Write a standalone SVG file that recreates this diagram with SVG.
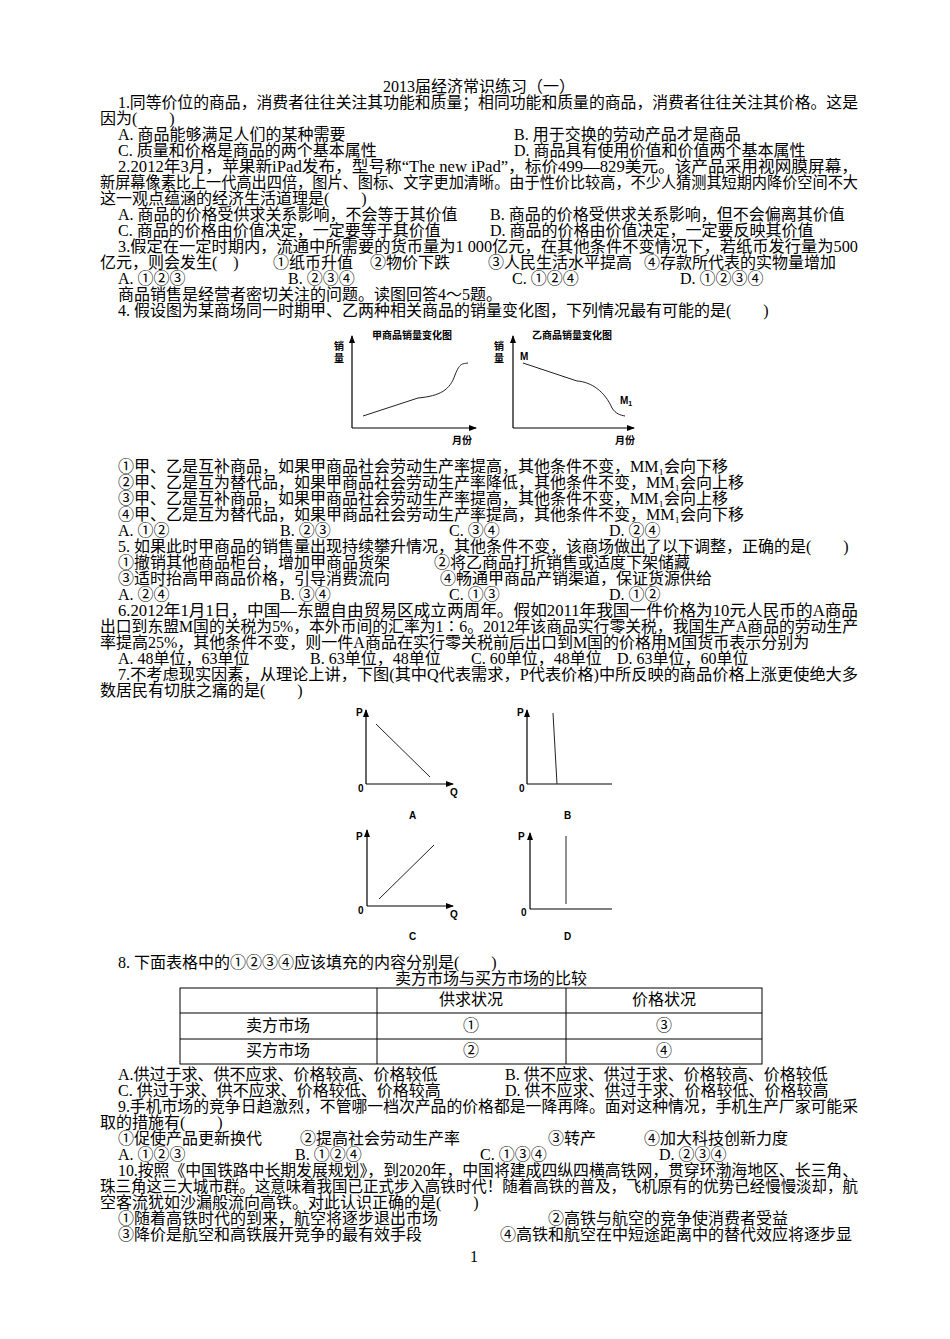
<svg xmlns="http://www.w3.org/2000/svg" width="950" height="1339" viewBox="0 0 950 1339">
<defs>
<style>
text{font-family:"Liberation Serif","Noto Sans CJK SC",serif;font-size:16px;fill:#000}
.c{font-family:"Liberation Sans","Noto Sans CJK SC",sans-serif;font-size:10px;font-weight:bold}
.ax{stroke:#000;stroke-width:1.2;fill:none}
.ln{stroke:#222;stroke-width:1;fill:none}
.tb{stroke:#000;stroke-width:1;fill:none}
</style>
<marker id="ar" markerWidth="8" markerHeight="6" refX="7" refY="3" orient="auto" markerUnits="userSpaceOnUse"><path d="M0,0 L8,3 L0,6 Z" fill="#000"/></marker>
</defs>
<rect width="950" height="1339" fill="#fff"/>
<g id="text">
<text x="383" y="92">2013届经济常识练习（一）</text>
<text x="118" y="108" textLength="740" lengthAdjust="spacingAndGlyphs">1.同等价位的商品，消费者往往关注其功能和质量；相同功能和质量的商品，消费者往往关注其价格。这是</text>
<text x="100" y="124">因为(　　)</text>
<text x="118" y="140">A. 商品能够满足人们的某种需要</text><text x="514" y="140">B. 用于交换的劳动产品才是商品</text>
<text x="118" y="156">C. 质量和价格是商品的两个基本属性</text><text x="514" y="156">D. 商品具有使用价值和价值两个基本属性</text>
<text x="118" y="172" textLength="740" lengthAdjust="spacingAndGlyphs">2.2012年3月，苹果新iPad发布，型号称“The new iPad”，标价499—829美元。该产品采用视网膜屏幕，</text>
<text x="100" y="188" textLength="758" lengthAdjust="spacingAndGlyphs">新屏幕像素比上一代高出四倍，图片、图标、文字更加清晰。由于性价比较高，不少人猜测其短期内降价空间不大</text>
<text x="100" y="204">这一观点蕴涵的经济生活道理是(　　)</text>
<text x="118" y="220">A. 商品的价格受供求关系影响，不会等于其价值</text><text x="490" y="220">B. 商品的价格受供求关系影响，但不会偏离其价值</text>
<text x="118" y="236">C. 商品的价格由价值决定，一定要等于其价值</text><text x="490" y="236">D. 商品的价格由价值决定，一定要反映其价值</text>
<text x="118" y="252" textLength="740" lengthAdjust="spacingAndGlyphs">3.假定在一定时期内，流通中所需要的货币量为1 000亿元，在其他条件不变情况下，若纸币发行量为500</text>
<text x="100" y="268">亿元，则会发生(　)</text><text x="273" y="268">①纸币升值</text><text x="370" y="268">②物价下跌</text><text x="488" y="268">③人民生活水平提高</text><text x="644" y="268">④存款所代表的实物量增加</text>
<text x="118" y="284">A. ①②③</text><text x="288" y="284">B. ②③④</text><text x="512" y="284">C. ①②④</text><text x="680" y="284">D. ①②③④</text>
<text x="118" y="300">商品销售是经营者密切关注的问题。读图回答4～5题。</text>
<text x="118" y="316">4. 假设图为某商场同一时期甲、乙两种相关商品的销量变化图，下列情况最有可能的是(　　)</text>
<text x="118" y="472">①甲、乙是互补商品，如果甲商品社会劳动生产率提高，其他条件不变，MM₁会向下移</text>
<text x="118" y="488">②甲、乙是互为替代品，如果甲商品社会劳动生产率降低，其他条件不变，MM₁会向上移</text>
<text x="118" y="504">③甲、乙是互补商品，如果甲商品社会劳动生产率提高，其他条件不变，MM₁会向上移</text>
<text x="118" y="520">④甲、乙是互为替代品，如果甲商品社会劳动生产率提高，其他条件不变，MM₁会向下移</text>
<text x="118" y="536">A. ①②</text><text x="280" y="536">B. ②③</text><text x="449" y="536">C. ③④</text><text x="609" y="536">D. ②④</text>
<text x="118" y="552">5. 如果此时甲商品的销售量出现持续攀升情况，其他条件不变，该商场做出了以下调整，正确的是(　　)</text>
<text x="118" y="568">①撤销其他商品柜台，增加甲商品货架</text><text x="434" y="568">②将乙商品打折销售或适度下架储藏</text>
<text x="118" y="584">③适时抬高甲商品价格，引导消费流向</text><text x="440" y="584">④畅通甲商品产销渠道，保证货源供给</text>
<text x="118" y="600">A. ②④</text><text x="280" y="600">B. ③④</text><text x="449" y="600">C. ①③</text><text x="609" y="600">D. ①②</text>
<text x="118" y="616" textLength="740" lengthAdjust="spacingAndGlyphs">6.2012年1月1日，中国—东盟自由贸易区成立两周年。假如2011年我国一件价格为10元人民币的A商品</text>
<text x="100" y="632" textLength="758" lengthAdjust="spacingAndGlyphs">出口到东盟M国的关税为5%，本外币间的汇率为1∶6。2012年该商品实行零关税，我国生产A商品的劳动生产</text>
<text x="100" y="648">率提高25%，其他条件不变，则一件A商品在实行零关税前后出口到M国的价格用M国货币表示分别为</text>
<text x="118" y="664">A. 48单位，63单位</text><text x="310" y="664">B. 63单位，48单位</text><text x="471" y="664">C. 60单位，48单位</text><text x="617" y="664">D. 63单位，60单位</text>
<text x="118" y="680" textLength="740" lengthAdjust="spacingAndGlyphs">7.不考虑现实因素，从理论上讲，下图(其中Q代表需求，P代表价格)中所反映的商品价格上涨更使绝大多</text>
<text x="100" y="696">数居民有切肤之痛的是(　　)</text>
<text x="118" y="968">8. 下面表格中的①②③④应该填充的内容分别是(　　)</text>
<text x="395" y="984">卖方市场与买方市场的比较</text>
<text x="118" y="1080">A.供过于求、供不应求、价格较高、价格较低</text><text x="505" y="1080">B. 供不应求、供过于求、价格较高、价格较低</text>
<text x="118" y="1096">C. 供过于求、供不应求、价格较低、价格较高</text><text x="505" y="1096">D. 供不应求、供过于求、价格较低、价格较高</text>
<text x="118" y="1112" textLength="740" lengthAdjust="spacingAndGlyphs">9.手机市场的竞争日趋激烈，不管哪一档次产品的价格都是一降再降。面对这种情况，手机生产厂家可能采</text>
<text x="100" y="1128">取的措施有(　　)</text>
<text x="118" y="1144">①促使产品更新换代</text><text x="300" y="1144">②提高社会劳动生产率</text><text x="548" y="1144">③转产</text><text x="644" y="1144">④加大科技创新力度</text>
<text x="118" y="1160">A. ①②③</text><text x="295" y="1160">B. ①②④</text><text x="480" y="1160">C. ①③④</text><text x="659" y="1160">D. ②③④</text>
<text x="118" y="1176" textLength="740" lengthAdjust="spacingAndGlyphs">10.按照《中国铁路中长期发展规划》，到2020年，中国将建成四纵四横高铁网，贯穿环渤海地区、长三角、</text>
<text x="100" y="1192" textLength="758" lengthAdjust="spacingAndGlyphs">珠三角这三大城市群。这意味着我国已正式步入高铁时代！随着高铁的普及，飞机原有的优势已经慢慢淡却，航</text>
<text x="100" y="1208">空客流犹如沙漏般流向高铁。对此认识正确的是(　　)</text>
<text x="118" y="1224">①随着高铁时代的到来，航空将逐步退出市场</text><text x="548" y="1224">②高铁与航空的竞争使消费者受益</text>
<text x="118" y="1240">③降价是航空和高铁展开竞争的最有效手段</text><text x="500" y="1240">④高铁和航空在中短途距离中的替代效应将逐步显</text>
<text x="470" y="1262">1</text>
</g>
<g id="chart-jia">
<text class="c" x="372" y="339">甲商品销量变化图</text>
<text class="c" x="334" y="350">销</text><text class="c" x="334" y="362">量</text>
<path class="ax" d="M352,428 V336" marker-end="url(#ar)"/>
<path class="ax" d="M352,428 H476" marker-end="url(#ar)"/>
<path class="ln" d="M363,416 L418,398 C440,396 450,390 455,375 C460,362 463,364 468,363"/>
<text class="c" x="452" y="444">月份</text>
</g>
<g id="chart-yi">
<text class="c" x="532" y="339">乙商品销量变化图</text>
<text class="c" x="494" y="350">销</text><text class="c" x="494" y="362">量</text>
<path class="ax" d="M513,428 V336" marker-end="url(#ar)"/>
<path class="ax" d="M513,428 H634" marker-end="url(#ar)"/>
<text class="c" x="520" y="360">M</text>
<path class="ln" d="M523,363 L577,381 C592,382 605,392 612,408 C616,414 620,415 625,416"/>
<text class="c" x="620" y="404">M<tspan font-size="7" dy="2">1</tspan></text>
<text class="c" x="615" y="444">月份</text>
</g>
<g id="graph-A">
<path class="ax" d="M366,784 V710" marker-end="url(#ar)"/><path class="ax" d="M366,784 H453" marker-end="url(#ar)"/>
<line class="ln" x1="376" y1="724" x2="430" y2="777"/>
<text class="c" x="356" y="716">P</text><text class="c" x="358" y="792">0</text><text class="c" x="450" y="796">Q</text><text class="c" x="409" y="819">A</text>
</g>
<g id="graph-B">
<path class="ax" d="M527,784 V710" marker-end="url(#ar)"/><path class="ax" d="M527,784 H612"/>
<line class="ln" x1="553" y1="713" x2="557" y2="784"/>
<text class="c" x="517" y="716">P</text><text class="c" x="519" y="792">0</text><text class="c" x="564" y="819">B</text>
</g>
<g id="graph-C">
<path class="ax" d="M367,906 V830" marker-end="url(#ar)"/><path class="ax" d="M367,906 H453" marker-end="url(#ar)"/>
<line class="ln" x1="379" y1="899" x2="434" y2="845"/>
<text class="c" x="356" y="840">P</text><text class="c" x="358" y="914">0</text><text class="c" x="450" y="918">Q</text><text class="c" x="409" y="940">C</text>
</g>
<g id="graph-D">
<path class="ax" d="M530,909 V833" marker-end="url(#ar)"/><path class="ax" d="M530,909 H612"/>
<line class="ln" x1="566" y1="836" x2="566" y2="904"/>
<text class="c" x="518" y="840">P</text><text class="c" x="521" y="916">0</text><text class="c" x="564" y="940">D</text>
</g>
<g id="table">
<rect class="tb" x="180" y="988" width="582" height="76"/>
<line class="tb" x1="180" y1="1013" x2="762" y2="1013"/>
<line class="tb" x1="180" y1="1039" x2="762" y2="1039"/>
<line class="tb" x1="377" y1="988" x2="377" y2="1064"/>
<line class="tb" x1="566" y1="988" x2="566" y2="1064"/>
<g text-anchor="middle">
<text x="471" y="1005">供求状况</text><text x="664" y="1005">价格状况</text>
<text x="278" y="1031">卖方市场</text><text x="471" y="1031">①</text><text x="664" y="1031">③</text>
<text x="278" y="1056">买方市场</text><text x="471" y="1056">②</text><text x="664" y="1056">④</text>
</g>
</g>
</svg>
